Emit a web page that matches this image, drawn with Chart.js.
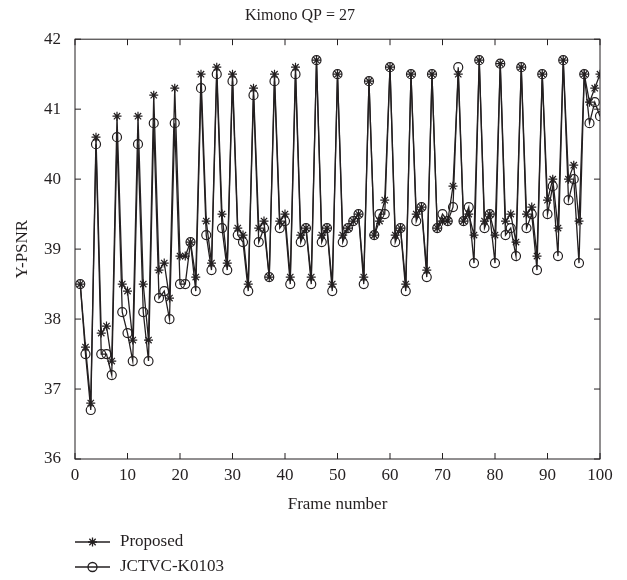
<!DOCTYPE html>
<html lang="en">
<head>
<meta charset="UTF-8" />
<script src="https://cdn.jsdelivr.net/npm/chart.js@4.4.0/dist/chart.umd.min.js"></script>
<title>Kimono QP = 27</title>
<style>
  body { margin: 0; background: #fff; }
  #wrap { width: 627px; height: 580px; }
</style>
</head>
<body>
<div id="wrap"><canvas id="chart"></canvas></div>
<script>
// frame numbers 1..100
const frames = [
  1, 2, 3, 4, 5, 6, 7, 8, 9, 10, 11, 12, 13, 14, 15, 16, 17, 18, 19, 20,
  21, 22, 23, 24, 25, 26, 27, 28, 29, 30, 31, 32, 33, 34, 35, 36, 37, 38, 39, 40,
  41, 42, 43, 44, 45, 46, 47, 48, 49, 50, 51, 52, 53, 54, 55, 56, 57, 58, 59, 60,
  61, 62, 63, 64, 65, 66, 67, 68, 69, 70, 71, 72, 73, 74, 75, 76, 77, 78, 79, 80,
  81, 82, 83, 84, 85, 86, 87, 88, 89, 90, 91, 92, 93, 94, 95, 96, 97, 98, 99, 100
];

const proposed = [
  38.5, 37.6, 36.8, 40.6, 37.8, 37.9, 37.4, 40.9, 38.5, 38.4,
  37.7, 40.9, 38.5, 37.7, 41.2, 38.7, 38.8, 38.3, 41.3, 38.9,
  38.9, 39.1, 38.6, 41.5, 39.4, 38.8, 41.6, 39.5, 38.8, 41.5,
  39.3, 39.2, 38.5, 41.3, 39.3, 39.4, 38.6, 41.5, 39.4, 39.5,
  38.6, 41.6, 39.2, 39.3, 38.6, 41.7, 39.2, 39.3, 38.5, 41.5,
  39.2, 39.3, 39.4, 39.5, 38.6, 41.4, 39.2, 39.4, 39.7, 41.6,
  39.2, 39.3, 38.5, 41.5, 39.5, 39.6, 38.7, 41.5, 39.3, 39.4,
  39.4, 39.9, 41.5, 39.4, 39.5, 39.2, 41.7, 39.4, 39.5, 39.2,
  41.65, 39.4, 39.5, 39.1, 41.6, 39.5, 39.6, 38.9, 41.5, 39.7,
  40.0, 39.3, 41.7, 40.0, 40.2, 39.4, 41.5, 41.1, 41.3, 41.5
];

const k0103 = [
  38.5, 37.5, 36.7, 40.5, 37.5, 37.5, 37.2, 40.6, 38.1, 37.8,
  37.4, 40.5, 38.1, 37.4, 40.8, 38.3, 38.4, 38.0, 40.8, 38.5,
  38.5, 39.1, 38.4, 41.3, 39.2, 38.7, 41.5, 39.3, 38.7, 41.4,
  39.2, 39.1, 38.4, 41.2, 39.1, 39.3, 38.6, 41.4, 39.3, 39.4,
  38.5, 41.5, 39.1, 39.3, 38.5, 41.7, 39.1, 39.3, 38.4, 41.5,
  39.1, 39.3, 39.4, 39.5, 38.5, 41.4, 39.2, 39.5, 39.5, 41.6,
  39.1, 39.3, 38.4, 41.5, 39.4, 39.6, 38.6, 41.5, 39.3, 39.5,
  39.4, 39.6, 41.6, 39.4, 39.6, 38.8, 41.7, 39.3, 39.5, 38.8,
  41.65, 39.2, 39.3, 38.9, 41.6, 39.3, 39.5, 38.7, 41.5, 39.5,
  39.9, 38.9, 41.7, 39.7, 40.0, 38.8, 41.5, 40.8, 41.1, 40.9
];

const ink = '#231f20';
const serif = '"Liberation Serif", "DejaVu Serif", serif';

const toPoints = (ys) => frames.map((f, i) => ({ x: f, y: ys[i] }));

// closed box, inward ticks, and the stacked legend under the axis
const frameBox = {
  id: 'frameBox',
  afterDraw(chart) {
    const { ctx, chartArea: a, scales } = chart;
    const t = 6;
    ctx.save();
    ctx.strokeStyle = ink;
    ctx.lineWidth = 1;
    ctx.strokeRect(a.left, a.top, a.right - a.left, a.bottom - a.top);
    ctx.beginPath();
    scales.x.ticks.forEach((tk) => {
      const px = scales.x.getPixelForValue(tk.value);
      ctx.moveTo(px, a.bottom); ctx.lineTo(px, a.bottom - t);
      ctx.moveTo(px, a.top); ctx.lineTo(px, a.top + t);
    });
    scales.y.ticks.forEach((tk) => {
      const py = scales.y.getPixelForValue(tk.value);
      ctx.moveTo(a.left, py); ctx.lineTo(a.left + t, py);
      ctx.moveTo(a.right, py); ctx.lineTo(a.right - t, py);
    });
    ctx.stroke();

    const x0 = a.left;
    const rows = [542, 567];
    chart.data.datasets.forEach((ds, i) => {
      const y = rows[i];
      ctx.strokeStyle = ink;
      ctx.lineWidth = 1.3;
      ctx.beginPath();
      ctx.moveTo(x0, y); ctx.lineTo(x0 + 35, y);
      ctx.stroke();
      ctx.fillStyle = 'rgba(0,0,0,0)';
      Chart.helpers.drawPoint(ctx, {
        pointStyle: ds.pointStyle, radius: ds.pointRadius, rotation: 0, borderWidth: 1.2
      }, x0 + 17.5, y);
      ctx.fillStyle = ink;
      ctx.font = '17px ' + serif;
      ctx.textBaseline = 'middle';
      ctx.fillText(ds.label, x0 + 45, y);
    });
    ctx.restore();
  }
};

new Chart(document.getElementById('chart'), {
  type: 'line',
  data: {
    datasets: [
      {
        label: 'Proposed',
        data: toPoints(proposed),
        borderColor: ink,
        backgroundColor: 'rgba(0,0,0,0)',
        borderWidth: 1.3,
        pointStyle: 'star',
        pointRadius: 4.5,
        pointBorderWidth: 1.2,
        pointBorderColor: ink
      },
      {
        label: 'JCTVC-K0103',
        data: toPoints(k0103),
        borderColor: ink,
        backgroundColor: 'rgba(0,0,0,0)',
        borderWidth: 1.3,
        pointStyle: 'circle',
        pointRadius: 4.5,
        pointBorderWidth: 1.2,
        pointBorderColor: ink
      }
    ]
  },
  options: {
    responsive: true,
    maintainAspectRatio: false,
    animation: false,
    layout: { padding: { left: 0, right: 27, top: 0, bottom: 56 } },
    plugins: {
      legend: { display: false },
      tooltip: { enabled: false },
      title: {
        display: true,
        text: 'Kimono QP = 27',
        color: ink,
        font: { family: serif, size: 16, weight: 'normal' },
        padding: { top: 6, bottom: 14 }
      }
    },
    scales: {
      x: {
        type: 'linear',
        min: 0,
        max: 100,
        afterFit(s) { s.height = 65; },
        ticks: { stepSize: 10, color: ink, padding: 6, font: { family: serif, size: 17 } },
        grid: { display: false, drawTicks: false },
        border: { display: false },
        title: {
          display: true, text: 'Frame number', color: ink,
          font: { family: serif, size: 17 }, padding: { top: 4, bottom: 9 }
        }
      },
      y: {
        min: 36,
        max: 42,
        afterFit(s) { s.width = 75; },
        ticks: { stepSize: 1, color: ink, padding: 14, font: { family: serif, size: 17 } },
        grid: { display: false, drawTicks: false },
        border: { display: false },
        title: {
          display: true, text: 'Y-PSNR', color: ink,
          font: { family: serif, size: 17 }, padding: { top: 12, bottom: 0 }
        }
      }
    }
  },
  plugins: [frameBox]
});
</script>
</body>
</html>
